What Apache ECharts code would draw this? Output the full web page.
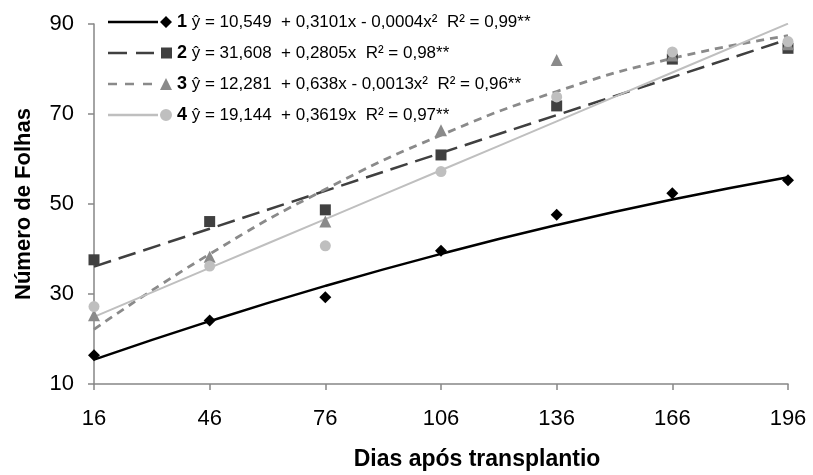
<!DOCTYPE html>
<html>
<head>
<meta charset="utf-8">
<script src="https://cdn.jsdelivr.net/npm/echarts@6/dist/echarts.min.js"></script>
<style>
  html, body { margin: 0; padding: 0; background: #fff; }
  #main { width: 813px; height: 475px; }
</style>
</head>
<body>
<div id="main"></div>
<script>
// dados
var days = [16, 46, 76, 106, 136, 166, 196];
var yTicks = [10, 30, 50, 70, 90];

var trat1 = [16.4, 24.1, 29.3, 39.6, 47.6, 52.4, 55.3];
var trat2 = [37.6, 46.1, 48.7, 60.9, 71.8, 82.2, 84.6];
var trat3 = [25.3, 38.3, 46.1, 66.4, 82.0, 83.0, 85.5];
var trat4 = [27.2, 36.2, 40.7, 57.2, 73.8, 83.8, 86.1];

// coeficientes das regressões (ŷ = a + b·x + c·x²)
var coefA = [10.549, 31.608, 12.281, 19.144];
var coefB = [0.3101, 0.2805, 0.638, 0.3619];
var coefC = [-0.0004, 0, -0.0013, 0];

var names = ['1', '2', '3', '4'];
var equations = [
  'ŷ = 10,549  + 0,3101x - 0,0004x²  R² = 0,99**',
  'ŷ = 31,608  + 0,2805x  R² = 0,98**',
  'ŷ = 12,281  + 0,638x - 0,0013x²  R² = 0,96**',
  'ŷ = 19,144  + 0,3619x  R² = 0,97**'
];

var cores = ['#000000', '#404040', '#8a8a8a', '#bfbfbf'];
var simbolos = ['diamond', 'rect', 'triangle', 'circle'];
var tamanhos = [12, 11, 12, 11];
var pontos = [trat1, trat2, trat3, trat4];

var icones = [
  'path://M0 4.8H50V7.2H0Z M58 0L64 6L58 12L52 6Z',
  'path://M0 4.8H19V7.2H0Z M28 4.8H46V7.2H28Z M53 0.5H64V11.5H53Z M53 0V0.01H53.01Z M53 12V11.99H53.01Z',
  'path://M0 4.8H9V7.2H0Z M17 4.8H26V7.2H17Z M35 4.8H44V7.2H35Z M58 0L64 12L52 12Z',
  'path://M0 4.8H50V7.2H0Z M52 6A6 6 0 1 0 64 6A6 6 0 1 0 52 6Z'
];

function curva(i) {
  return days.map(function (x) {
    return +(coefA[i] + coefB[i] * x + coefC[i] * x * x).toFixed(3);
  });
}

var estilosLinha = [
  { color: '#000000', width: 2.5, type: 'solid' },
  { color: '#404040', width: 2.5, type: [18, 8] },
  { color: '#8a8a8a', width: 2.8, type: [8, 6] },
  { color: '#bfbfbf', width: 2, type: 'solid' }
];

var series = [];
for (var i = 0; i < 4; i++) {
  series.push({
    name: names[i],
    type: 'line',
    data: curva(i),
    smooth: true,
    symbol: 'none',
    color: cores[i],
    lineStyle: estilosLinha[i],
    z: 2,
    silent: true
  });
}
for (var j = 0; j < 4; j++) {
  series.push({
    name: names[j],
    type: 'scatter',
    data: pontos[j],
    symbol: simbolos[j],
    symbolSize: tamanhos[j],
    itemStyle: { color: cores[j], opacity: 1 },
    z: 3 + j
  });
}

var myChart = echarts.init(document.getElementById('main'));

var option = {
  animation: false,
  backgroundColor: '#ffffff',
  textStyle: { fontFamily: 'Liberation Sans, Arial, sans-serif' },
  grid: { left: 94, right: 25, top: 24, bottom: 91, containLabel: false, outerBoundsMode: 'none' },
  legend: {
    orient: 'vertical',
    left: 108,
    top: 13,
    padding: 0,
    itemWidth: 64,
    itemHeight: 12,
    itemGap: 13,
    symbolKeepAspect: false,
    itemStyle: { borderWidth: 0 },
    selectedMode: false,
    data: names.map(function (n, k) { return { name: n, icon: icones[k] }; }),
    formatter: function (name) {
      return '{n|' + name + '} ' + equations[names.indexOf(name)];
    },
    textStyle: {
      fontSize: 17,
      color: '#000',
      rich: { n: { fontSize: 18, fontWeight: 'bold', color: '#000' } }
    }
  },
  xAxis: {
    type: 'category',
    data: days.map(String),
    boundaryGap: false,
    name: 'Dias após transplantio',
    nameLocation: 'middle',
    nameGap: 64,
    nameMoveOverlap: false,
    nameTextStyle: { fontSize: 23, fontWeight: 'bold', color: '#000', padding: [0, 0, 0, 72] },
    axisLine: { lineStyle: { color: '#868686', width: 1.5 } },
    axisTick: { alignWithLabel: true, length: 6, lineStyle: { color: '#868686', width: 1.5 } },
    axisLabel: { fontSize: 22, color: '#000', margin: 24 },
    splitLine: { show: false }
  },
  yAxis: {
    type: 'value',
    min: yTicks[0],
    max: yTicks[yTicks.length - 1],
    interval: 20,
    name: 'Número de Folhas',
    nameLocation: 'middle',
    nameGap: 59,
    nameMoveOverlap: false,
    nameTextStyle: { fontSize: 22, fontWeight: 'bold', color: '#000' },
    axisLine: { show: true, lineStyle: { color: '#868686', width: 1.5 } },
    axisTick: { show: true, length: 6, lineStyle: { color: '#868686', width: 1.5 } },
    axisLabel: { fontSize: 22, color: '#000', margin: 20 },
    splitLine: { show: false }
  },
  series: series
};

myChart.setOption(option);
</script>
</body>
</html>
